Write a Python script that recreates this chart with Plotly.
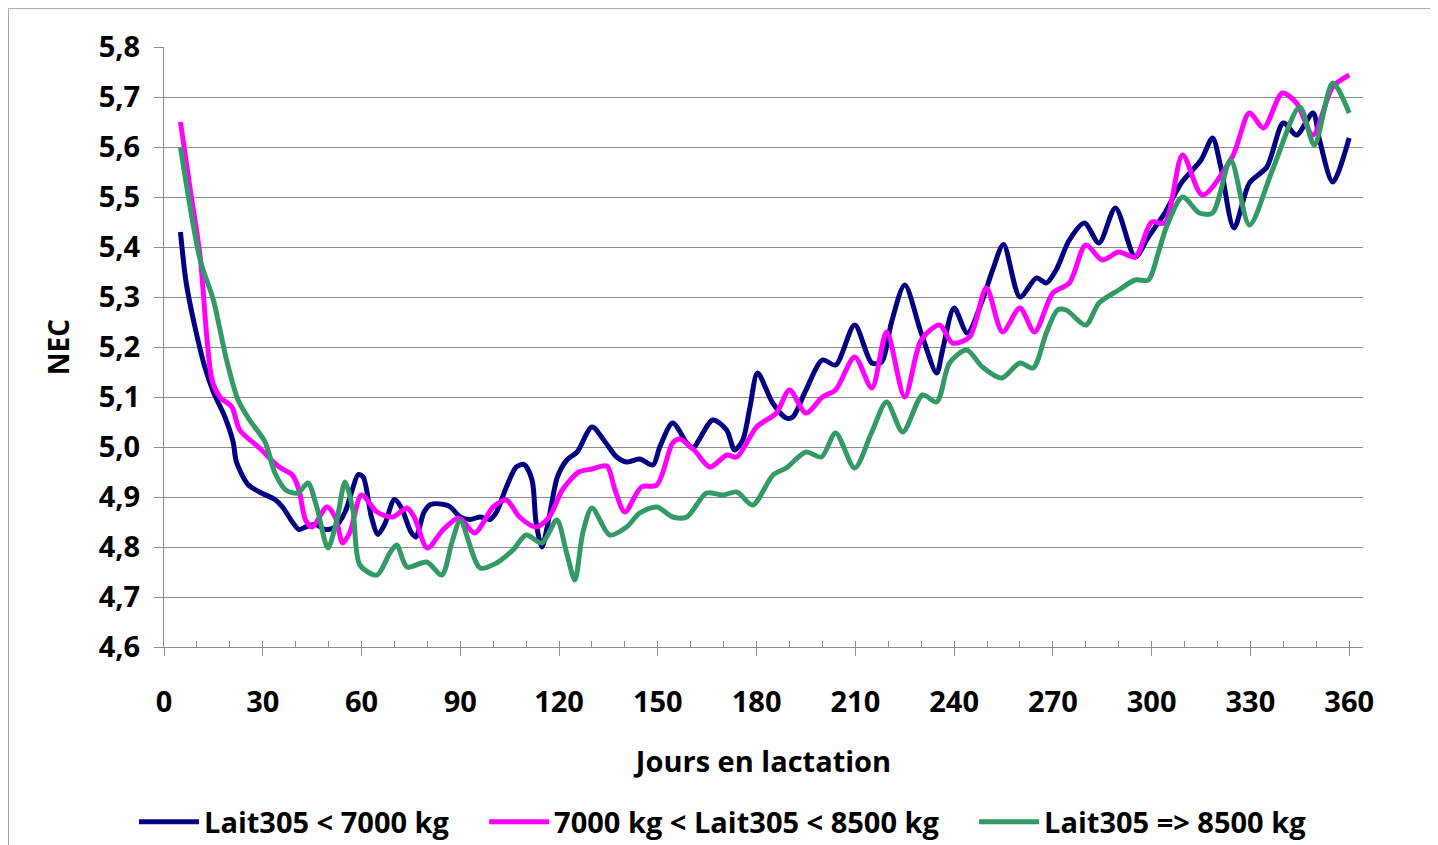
import plotly.graph_objects as go

# Jours en lactation / NEC
jours_bas = [5, 6.7, 9.4, 12.4, 15, 18.5, 21, 22, 25.5, 29, 33.7, 36, 39, 41, 43, 46, 49, 52, 55, 57,
             59, 60.5, 63, 65, 67, 70, 72, 75, 76.5, 79, 81, 85, 87, 90, 93, 96, 99, 101, 104, 107,
             109.4, 111.8, 113, 114.8, 117, 119.5, 122.5, 125.5, 130, 134, 137.5, 140.5, 144.5, 148.5,
             150.6, 154.5, 158.8, 160.6, 166.7, 170.9, 173.3, 175.8, 178, 180.3, 184.9, 189, 191, 195,
             200, 204, 209.8, 215, 218, 221, 225, 230, 234.7, 236.5, 240, 244, 248.6, 251.7, 255, 260,
             265, 268, 271, 275, 279.6, 284, 289, 295, 299, 304, 309, 315, 318.5, 321, 325, 329.7, 335,
             340, 344, 349, 351, 355, 360]
nec_bas = [5.43, 5.33, 5.24, 5.16, 5.11, 5.06, 5.01, 4.97, 4.925, 4.91, 4.895, 4.88, 4.85, 4.835, 4.84,
           4.845, 4.835, 4.84, 4.87, 4.91, 4.945, 4.94, 4.86, 4.825, 4.845, 4.895, 4.88, 4.83, 4.82,
           4.87, 4.885, 4.885, 4.88, 4.86, 4.855, 4.86, 4.855, 4.87, 4.92, 4.96, 4.965, 4.934, 4.85,
           4.80, 4.86, 4.94, 4.975, 4.99, 5.04, 5.01, 4.98, 4.97, 4.976, 4.964, 5.0, 5.048, 5.008,
           4.998, 5.054, 5.034, 4.994, 5.014, 5.08, 5.148, 5.088, 5.058, 5.06, 5.114, 5.174, 5.164,
           5.244, 5.168, 5.17, 5.25, 5.324, 5.228, 5.148, 5.194, 5.278, 5.228, 5.294, 5.354, 5.405,
           5.30, 5.338, 5.328, 5.354, 5.414, 5.448, 5.408, 5.478, 5.38, 5.42, 5.468, 5.528, 5.574,
           5.618, 5.56, 5.438, 5.528, 5.56, 5.648, 5.624, 5.668, 5.614, 5.53, 5.618]

jours_moy = [5, 8, 11, 13, 14.6, 17, 20.6, 23, 29, 35, 39, 41, 43, 45, 49.5, 52, 54.3, 56.5, 60, 64.7,
             69.5, 73.8, 76, 80, 84.7, 89.3, 90.5, 94.4, 100, 104, 108, 113, 117, 121, 126, 130, 134.5,
             137, 140, 145, 149.7, 154.5, 156.6, 161, 165.8, 171, 174, 180, 186, 190, 195, 200, 204,
             209.8, 215, 219.5, 225, 230, 235.6, 239.5, 244.7, 249.8, 254.7, 260, 264.4, 270, 275, 280,
             285, 290, 295, 300, 304, 309.4, 315.4, 324.5, 329.7, 334, 339.7, 344, 349, 355, 360]
nec_moy = [5.65, 5.514, 5.38, 5.22, 5.134, 5.10, 5.08, 5.034, 4.998, 4.96, 4.944, 4.914, 4.854, 4.84,
           4.88, 4.86, 4.808, 4.83, 4.904, 4.87, 4.86, 4.878, 4.86, 4.798, 4.834, 4.858, 4.854, 4.828,
           4.88, 4.894, 4.86, 4.84, 4.86, 4.914, 4.95, 4.956, 4.962, 4.914, 4.87, 4.92, 4.924, 5.008,
           5.016, 4.994, 4.96, 4.984, 4.98, 5.04, 5.068, 5.114, 5.068, 5.10, 5.114, 5.18, 5.118, 5.23,
           5.10, 5.214, 5.244, 5.208, 5.22, 5.318, 5.23, 5.278, 5.23, 5.308, 5.328, 5.404, 5.374, 5.39,
           5.38, 5.45, 5.448, 5.584, 5.504, 5.58, 5.668, 5.638, 5.708, 5.688, 5.624, 5.72, 5.744]

jours_haut = [5, 11, 15, 19, 22.5, 26, 30.7, 33.7, 37, 40.7, 43.7, 46.4, 49.8, 52.5, 55, 57.4, 59.5,
              64.7, 68.6, 70.7, 73.8, 79.8, 84.4, 87.4, 90, 96, 101, 106, 110, 114.8, 119.3, 122.3,
              124.8, 127.2, 130, 135.4, 140.5, 144.5, 149.7, 154.5, 158.8, 164.8, 169.7, 174, 178.8,
              185, 189, 195, 199.7, 204, 209.8, 215, 219.5, 224.4, 230.4, 234.7, 238.6, 243.8, 248.6,
              254.4, 260, 264, 268, 271.4, 274, 280, 284, 290, 295, 299, 302, 304.5, 309.4, 314.5,
              318.5, 324, 329.7, 336.7, 345, 349.4, 355, 360]
nec_haut = [5.60, 5.374, 5.294, 5.174, 5.094, 5.054, 5.01, 4.948, 4.914, 4.908, 4.928, 4.88, 4.798,
            4.854, 4.93, 4.874, 4.764, 4.744, 4.788, 4.804, 4.76, 4.77, 4.744, 4.808, 4.852, 4.758,
            4.768, 4.794, 4.824, 4.808, 4.854, 4.788, 4.734, 4.828, 4.878, 4.824, 4.84, 4.868, 4.88,
            4.86, 4.86, 4.908, 4.904, 4.91, 4.884, 4.944, 4.958, 4.99, 4.98, 5.028, 4.958, 5.03, 5.09,
            5.03, 5.104, 5.09, 5.168, 5.194, 5.16, 5.138, 5.168, 5.158, 5.228, 5.274, 5.274, 5.244,
            5.288, 5.314, 5.334, 5.334, 5.388, 5.44, 5.50, 5.468, 5.468, 5.574, 5.444, 5.554, 5.68,
            5.604, 5.728, 5.668]

series = [
    ("Lait305 < 7000 kg", jours_bas, nec_bas, "#000080"),
    ("7000 kg < Lait305 < 8500 kg", jours_moy, nec_moy, "#FF00FF"),
    ("Lait305 => 8500 kg", jours_haut, nec_haut, "#339966"),
]

FONT = "Open Sans"
GRID = "#8c8c8c"
ESPACE = "\u00a0" * 4  # écart entre les entrées de légende

fig = go.Figure()
for i, (nom, x, y, couleur) in enumerate(series):
    fig.add_trace(go.Scatter(
        x=x, y=y, name=nom + (ESPACE if i < len(series) - 1 else ""), mode="lines",
        line=dict(color=couleur, width=5, shape="spline", smoothing=0.8),
    ))

# axe secondaire pour les petites graduations vers l'intérieur
fig.add_trace(go.Scatter(x=[0], y=[4.6], xaxis="x2", mode="markers",
                         marker=dict(opacity=0), showlegend=False, hoverinfo="skip"))

# la page ajoute 8 px de marge autour de la figure
fig.update_layout(
    width=1430, height=837,
    margin=dict(l=156, r=75, t=39, b=198),
    paper_bgcolor="white", plot_bgcolor="white",
    separators=", ",
    font=dict(family=FONT, color="black"),
    xaxis=dict(
        range=[0, 364.2], tickmode="linear", tick0=0, dtick=30,
        ticks="outside", ticklen=8, tickcolor=GRID, showgrid=False,
        showline=True, linecolor=GRID, linewidth=1, zeroline=False,
        ticklabelstandoff=21,
        tickfont=dict(size=29, family=FONT, weight="bold"),
        title=dict(text="Jours en lactation", standoff=32,
                   font=dict(size=29, family=FONT, weight="bold")),
    ),
    xaxis2=dict(
        range=[0, 364.2], overlaying="x", anchor="y", tickmode="linear", tick0=0, dtick=10,
        ticks="inside", ticklen=6, tickcolor=GRID, showticklabels=False,
        showgrid=False, zeroline=False, side="bottom",
    ),
    yaxis=dict(
        range=[4.6, 5.8], tickmode="linear", tick0=4.6, dtick=0.1, tickformat=".1f",
        ticks="outside", ticklen=9, tickcolor=GRID,
        showgrid=True, gridcolor=GRID, gridwidth=1,
        showline=True, linecolor=GRID, linewidth=1, zeroline=False,
        ticklabelstandoff=8,
        tickfont=dict(size=29, family=FONT, weight="bold"),
        title=dict(text="NEC", standoff=20,
                   font=dict(size=28, family=FONT, weight="bold")),
    ),
    legend=dict(
        orientation="h", xref="container", yref="container",
        x=0.5, xanchor="center", y=0.0275, yanchor="middle",
        font=dict(size=29, family=FONT, weight="bold"),
        itemwidth=60, tracegroupgap=0,
    ),
    shapes=[
        dict(type="line", xref="paper", yref="paper",
             x0=-0.1297, x1=-0.1297, y0=-0.35, y1=1.064,
             line=dict(color="#a6a6a6", width=1), layer="below"),
        dict(type="line", xref="paper", yref="paper",
             x0=-0.1297, x1=1.07, y0=1.064, y1=1.064,
             line=dict(color="#a6a6a6", width=1), layer="below"),
    ],
)

fig.write_html("out.html")
